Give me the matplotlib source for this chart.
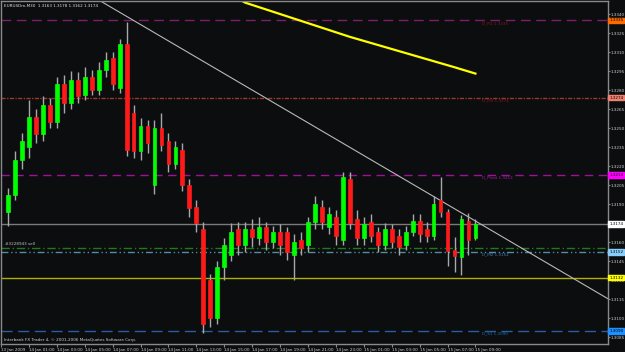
import matplotlib
matplotlib.use('Agg')
import matplotlib.pyplot as plt

# M30 bars, index 0 = 13 Jan 23:00
bar_idx = list(range(1, 69))
opens = [1.3184, 1.3197, 1.3225, 1.3235, 1.3259, 1.3245, 1.3268, 1.3255, 1.3285, 1.3270,
         1.3288, 1.3276, 1.3290, 1.3280, 1.3296, 1.3305, 1.3282, 1.3316, 1.3262, 1.3232,
         1.3252, 1.3205, 1.3250, 1.3240, 1.3222, 1.3233, 1.3205, 1.3188, 1.3170, 1.3130,
         1.3100, 1.3140, 1.3150, 1.3170, 1.3158, 1.3170, 1.3163, 1.3172, 1.3160, 1.3168,
         1.3168, 1.3150, 1.3162, 1.3158, 1.3176, 1.3188, 1.3172, 1.3180, 1.3162, 1.3210,
         1.3178, 1.3163, 1.3176, 1.3168, 1.3158, 1.3170, 1.3165, 1.3158, 1.3168, 1.3177,
         1.3170, 1.3165, 1.3193, 1.3184, 1.3154, 1.3148, 1.3177, 1.3163]
highs = [1.3203, 1.3232, 1.3246, 1.3272, 1.3265, 1.3275, 1.3274, 1.3290, 1.3292, 1.3295,
         1.3294, 1.3298, 1.3296, 1.3302, 1.3310, 1.3310, 1.3320, 1.3334, 1.3268, 1.3258,
         1.3256, 1.3256, 1.3262, 1.3246, 1.3240, 1.3238, 1.3210, 1.3193, 1.3176, 1.3135,
         1.3145, 1.3163, 1.3175, 1.3176, 1.3176, 1.3178, 1.3180, 1.3176, 1.3173, 1.3174,
         1.3172, 1.3166, 1.3168, 1.3180, 1.3196, 1.3193, 1.3188, 1.3185, 1.3215, 1.3215,
         1.3185, 1.3180, 1.3182, 1.3172, 1.3175, 1.3174, 1.3170, 1.3173, 1.3182, 1.3182,
         1.3176, 1.3196, 1.3211, 1.3186, 1.3164, 1.3181, 1.3183, 1.3178]
lows = [1.3173, 1.3193, 1.3218, 1.3226, 1.3238, 1.3240, 1.3250, 1.3250, 1.3262, 1.3265,
        1.3270, 1.3272, 1.3276, 1.3276, 1.3290, 1.3280, 1.3278, 1.3228, 1.3226, 1.3225,
        1.3230, 1.3198, 1.3232, 1.3215, 1.3218, 1.3200, 1.3180, 1.3168, 1.3088, 1.3093,
        1.3095, 1.3130, 1.3145, 1.3150, 1.3152, 1.3156, 1.3158, 1.3154, 1.3155, 1.3150,
        1.3146, 1.3130, 1.3150, 1.3152, 1.3170, 1.3170, 1.3166, 1.3158, 1.3158, 1.3170,
        1.3158, 1.3158, 1.3160, 1.3152, 1.3154, 1.3155, 1.3150, 1.3154, 1.3165, 1.3160,
        1.3160, 1.3162, 1.3180, 1.3141, 1.3136, 1.3134, 1.3150, 1.3162]
closes = [1.3197, 1.3225, 1.3240, 1.3259, 1.3245, 1.3268, 1.3255, 1.3285, 1.3270, 1.3288,
          1.3275, 1.3290, 1.3280, 1.3296, 1.3304, 1.3285, 1.3316, 1.3233, 1.3232, 1.3252,
          1.3238, 1.3250, 1.3237, 1.3222, 1.3235, 1.3205, 1.3187, 1.3175, 1.3095, 1.3100,
          1.3140, 1.3158, 1.3168, 1.3158, 1.3170, 1.3164, 1.3172, 1.3160, 1.3168, 1.3158,
          1.3152, 1.3160, 1.3155, 1.3176, 1.3190, 1.3176, 1.3182, 1.3165, 1.3211, 1.3175,
          1.3163, 1.3174, 1.3165, 1.3158, 1.3170, 1.3160, 1.3156, 1.3168, 1.3177, 1.3166,
          1.3165, 1.3190, 1.3184, 1.3153, 1.3149, 1.3178, 1.3162, 1.3174]

# moving average (yellow), sampled
ma_idx = [34, 35, 40, 45, 50, 55, 60, 65, 68]
ma_val = [1.3352, 1.3349, 1.3340, 1.3331, 1.3322, 1.3314, 1.3306, 1.3298, 1.3293]

# trendline anchors
trend_idx = [14.0, 87.0]
trend_val = [1.33511, 1.31152]

# horizontal levels
level_names = ['D_R1', 'D_M3', 'D_Pivot', 'bid', 'order', 'D_M2', 'day', 'D_S1']
level_vals = [1.3335, 1.3274, 1.3213, 1.3174, 1.3155, 1.3152, 1.3132, 1.3090]
level_colors = ['#7a1f6a', '#9a3a2a', '#a010a0', '#7a7a7a', '#1f7a1f', '#5a8aa0', '#b0b000', '#2a5e9e']
level_styles = [(0, (7, 4)), (0, (3, 1, 1, 1)), (0, (6, 4)), '-', (0, (6, 2, 1, 2)),
                (0, (5, 2, 1, 2, 1, 2)), '-', (0, (8, 4))]
label_bg = ['#ff6a00', '#f08070', '#ff00ff', '#ffffff', None, '#87cefa', '#ffff00', '#1e90ff']

yticks = [1.3340, 1.3325, 1.3310, 1.3295, 1.3280, 1.3265, 1.3250, 1.3235, 1.3220, 1.3205,
          1.3190, 1.3175, 1.3160, 1.3145, 1.3130, 1.3115, 1.3100, 1.3085]
xtick_idx = list(range(0, 69, 4))
xtick_lbl = ['13 Jan 2009', '14 Jan 01:00', '14 Jan 03:00', '14 Jan 05:00', '14 Jan 07:00',
             '14 Jan 09:00', '14 Jan 11:00', '14 Jan 13:00', '14 Jan 15:00', '14 Jan 17:00',
             '14 Jan 19:00', '14 Jan 21:00', '14 Jan 23:00', '15 Jan 01:00', '15 Jan 03:00',
             '15 Jan 05:00', '15 Jan 07:00', '15 Jan 09:00']

fs = 3.0
bg = '#0b0d0f'
fig = plt.figure(figsize=(6.25, 3.52), dpi=100, facecolor=bg)
ax = fig.add_axes([1 / 625, 8 / 352, 607 / 625, 343 / 352], facecolor=bg)
ax.set_xlim(2 / 7, 609 / 7)
ax.set_ylim(1.30795, 1.33503)

# levels
for v, c, ls in zip(level_vals, level_colors, level_styles):
    ax.axhline(v, color=c, lw=1, linestyle=ls, zorder=1)

ax.plot(trend_idx, trend_val, color='#b8b8b8', lw=0.8, zorder=2)
ax.plot(ma_idx, ma_val, color='#ffff00', lw=1.6, zorder=2)

# candles
for i, o, h, l, c in zip(bar_idx, opens, highs, lows, closes):
    col = '#00ff00' if c >= o else '#ff1a1a'
    ax.vlines(i, l, h, color='#a8a8a8', lw=1, zorder=3)
    ax.bar(i, max(abs(c - o), 0.00005), bottom=min(o, c), width=0.55,
           color=col, edgecolor=col, lw=0.5, zorder=4)

# level captions
capts = [('D_R1 1.3335', 0, '#8b1a1a'), ('D_M3 1.3274', 1, '#8b1a1a'),
         ('D_Pivot 1.3213', 2, '#a020a0'), ('D_M2 1.3152', 5, '#4682b4'),
         ('D_S1 1.3090', 7, '#1e6eb4')]
for txt, k, c in capts:
    ax.text(69.0, level_vals[k] - 0.0002, txt, color=c, fontsize=fs, va='center', ha='left')

ax.text(0.6, 1.3157, '#3228943 sell', color='#c0c0c0', fontsize=fs, va='bottom')
ax.text(0.005, 0.99, 'EURUSDm,M30  1.3163 1.3178 1.3162 1.3174', transform=ax.transAxes,
        color='#e0e0e0', fontsize=fs, va='top')
ax.text(0.005, 0.006, 'Interbank FX Trader 4, \u00a9 2001-2006 MetaQuotes Software Corp.',
        transform=ax.transAxes, color='#d0d0d0', fontsize=fs, va='bottom')

# axes styling
for s in ax.spines.values():
    s.set_color('#8a8a8a')
    s.set_linewidth(1)
ax.yaxis.tick_right()
ax.set_yticks(yticks)
# the bid box covers the 1.3175 label, as on the terminal
ax.set_yticklabels(['' if abs(v - 1.3175) < 1e-6 else '%.4f' % v for v in yticks])
ax.tick_params(axis='y', colors='#8a8a8a', labelcolor='#d0d0d0', labelsize=fs, length=1.5, pad=0.5)
ax.set_xticks(xtick_idx)
ax.set_xticklabels(xtick_lbl, ha='left')
ax.tick_params(axis='x', colors='#8a8a8a', labelcolor='#d0d0d0', labelsize=fs, length=2, pad=1)

# price boxes on scale
for v, b in zip(level_vals, label_bg):
    if b is None:
        continue
    ax.text(1.002, v, '%.4f' % v, transform=ax.get_yaxis_transform(), color='#000000',
            fontsize=fs, va='center', ha='left', clip_on=False, zorder=10,
            bbox=dict(boxstyle='square,pad=0.2', fc=b, ec=b))

fig.savefig('out.png', dpi=100, facecolor=bg)
